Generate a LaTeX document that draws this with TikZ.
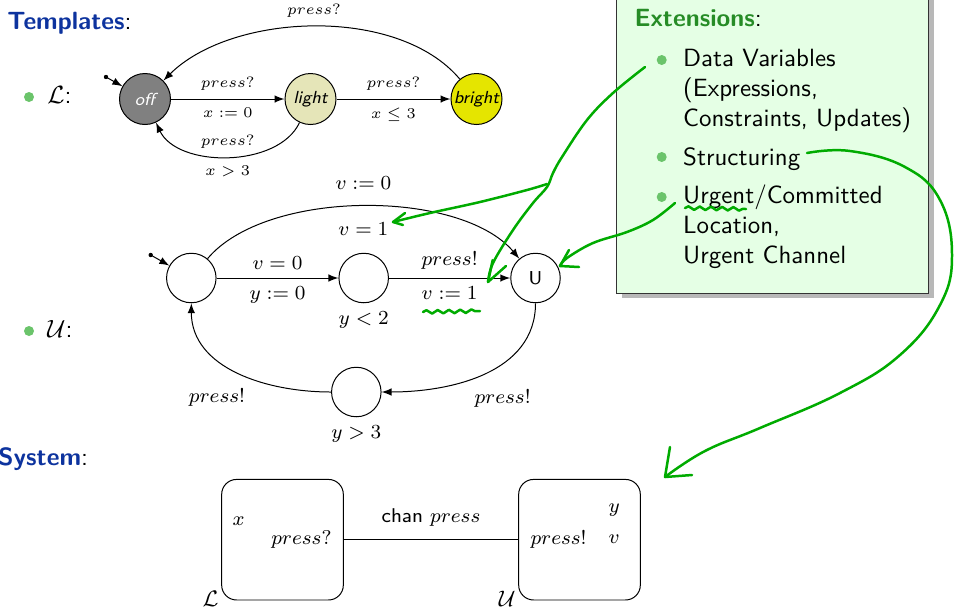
\documentclass[tikz,border=0pt]{standalone}
\usepackage{amsmath,amssymb}
\usepackage{tikz}
\definecolor{titleBlue}{rgb}{0.05,0.2,0.62}
\definecolor{extGreen}{rgb}{0.15,0.55,0.15}
\definecolor{itemGreen}{rgb}{0.42,0.77,0.42}
\definecolor{penGreen}{rgb}{0.0,0.67,0.0}
\definecolor{boxGreen}{rgb}{0.9,1.0,0.9}
\definecolor{offGray}{rgb}{0.5,0.5,0.5}
\definecolor{lightOlive}{rgb}{0.9,0.9,0.72}
\definecolor{brightYellow}{rgb}{0.9,0.9,0.0}
\usetikzlibrary{decorations.pathmorphing}
\tikzset{
  lloc/.style={circle, draw, minimum size=0.719cm, inner sep=0pt, font=\sffamily\itshape\fontsize{7}{8}\selectfont},
  uloc/.style={circle, draw, minimum size=0.698cm, inner sep=0pt, font=\sffamily\fontsize{7.5}{9}\selectfont},
  lbl/.style={font=\fontsize{6.5}{7.5}\selectfont},
  ulbl/.style={font=\fontsize{8}{9.5}\selectfont},
  slbl/.style={font=\fontsize{8}{9.5}\selectfont},
  sysbox/.style={draw, rounded corners=0.21cm, minimum width=1.715cm, minimum height=1.70cm},
  bul/.style={circle, fill=itemGreen, inner sep=0pt, minimum size=0.141cm},
  txt/.style={anchor=base west, inner sep=0pt, font=\sffamily},
  handpen/.style={penGreen, line width=1pt, line cap=round, line join=round},
  wavy/.style={handpen, decorate, decoration={snake, amplitude=0.7pt, segment length=4.5pt}},
}

\begin{document}
\begin{tikzpicture}[x=0.0141cm, y=0.0141cm]
        \useasboundingbox (0,0) rectangle (955,-614);

        \node[txt] (tmpl) at (7,-29.5) {\textcolor{titleBlue}{\bfseries Templates}:};
        \node[bul] (bl) at (29,-97) {};
        \node[txt] (lname) at (47,-103) {$\mathcal{L}$:};
        \node[bul] (bu) at (29,-331) {};
        \node[txt] (uname) at (47,-337) {$\mathcal{U}$:};
        \node[txt] (sys) at (-2,-465) {\textcolor{titleBlue}{\bfseries System}:};

        \node[lloc, fill=offGray, text=white] (off) at (145,-99) {off};
        \node[lloc, fill=lightOlive] (light) at (310.5,-99) {light};
        \node[lloc, fill=brightYellow] (bright) at (476.5,-99) {bright};
        \coordinate (linit) at (106,-77);
        \fill (linit) circle (2.2);
        \draw[-latex] (linit) -- (off);
        \draw[-latex] (off) -- node[lbl,above] {$press?$} node[lbl,below] {$x := 0$} (light);
        \draw[-latex] (light) -- node[lbl,above] {$press?$} node[lbl,below] {$x \leq 3$} (bright);
        \draw[-latex] (light) to[out=-115,in=-65,looseness=.9] node[lbl,above] {$press?$} node[lbl,below] {$x > 3$} (off);
        \draw[-latex] (bright) to[out=130,in=45,looseness=.83] node[lbl,above] {$press?$} (off);

        \node[uloc] (u0) at (191.3,-278) {};
        \node[uloc] (u1) at (363.7,-278) {};
        \node[uloc] (u2) at (535.5,-278) {U};
        \node[uloc] (u3) at (356.3,-392) {};
        \node[ulbl,below] (inv1) at (u1.south) {$y < 2$};
        \node[ulbl,below] (inv3) at (u3.south) {$y > 3$};
        \coordinate (uinit) at (150.7,-255);
        \fill (uinit) circle (2.2);
        \draw[-latex] (uinit) -- (u0);
        \draw[-latex] (u0) -- node[ulbl,above] {$v = 0$} node[ulbl,below] {$y := 0$} (u1);
        \draw[-latex] (u1) -- node[ulbl,above] {$press!$} node[ulbl,below] {$v := 1$} (u2);
        \draw[-latex] (u0) to[out=50,in=130,looseness=.75] node[ulbl,above=3pt] {$v := 0$} node[ulbl,below=3pt] {$v = 1$} (u2);
        \draw[-latex] (u2) to[out=-90,in=0] node[ulbl,pos=.6,below right] {$press!$} (u3);
        \draw[-latex] (u3) to[out=180,in=-90] node[ulbl,pos=.4,below left] {$press!$} (u0);

        \node[sysbox] (lsys) at (282.5,-539.7) {};
        \node[sysbox] (usys) at (579.5,-539.7) {};
        \draw (lsys) -- node[slbl,above=1.8pt] {\textsf{chan} $press$} (usys);
        \node[slbl, anchor=base west, inner sep=0pt] (lvar) at (232,-525) {$x$};
        \node[slbl, anchor=base east, inner sep=0pt] (lchan) at (332,-544) {$press?$};
        \node[slbl, anchor=base west, inner sep=0pt] (uchan) at (530,-544) {$press!$};
        \node[slbl, anchor=base west, inner sep=0pt] (uvary) at (608,-512) {$y$};
        \node[slbl, anchor=base west, inner sep=0pt] (uvarv) at (608,-543) {$v$};
        \node[font=\fontsize{9}{10}\selectfont, anchor=base east, inner sep=0pt] (lsysname) at (219,-606) {$\mathcal{L}$};
        \node[font=\fontsize{9}{10}\selectfont, anchor=base east, inner sep=0pt] (usysname) at (516,-606) {$\mathcal{U}$};

        \fill[black!28] (622,5) rectangle (934,-298);
        \draw[fill=boxGreen, draw=black!80] (616,5) rectangle (928,-293);
        \node[txt] (ext) at (634,-26) {\textcolor{extGreen}{\bfseries Extensions}:};
        \node[bul] (eb1) at (661.7,-60) {};
        \node[bul] (eb2) at (661.7,-157) {};
        \node[bul] (eb3) at (661.7,-197) {};
        \node[txt] (e1a) at (682.7,-66) {Data Variables};
        \node[txt] (e1b) at (682.7,-96) {(Expressions,};
        \node[txt] (e1c) at (682.7,-126) {Constraints, Updates)};
        \node[txt] (e2) at (682.7,-165) {Structuring};
        \node[txt] (e3a) at (682.7,-203) {Urgent/Committed};
        \node[txt] (e3b) at (682.7,-233) {Location,};
        \node[txt] (e3c) at (682.7,-263) {Urgent Channel};

        \draw[handpen] plot[smooth, tension=.6] coordinates {(645,-67) (613,-93) (587,-120) (562,-157) (553,-173) (547,-187) (533,-203) (513,-230) (493,-263) (488,-282)};
        \draw[handpen] (492.7,-260) -- (488,-282) -- (506,-266);
        \draw[handpen] plot[smooth, tension=.6] coordinates {(547,-184) (527,-190) (480,-202) (430,-213) (393,-222)};
        \draw[handpen] (405,-213) -- (393,-222) -- (403,-225);
        \draw[handpen] plot[smooth, tension=.6] coordinates {(675,-203) (653,-220) (627,-232) (593,-243) (567,-258) (560,-266)};
        \draw[handpen] (569,-250) -- (560,-266) -- (579,-267);
        \draw[handpen] plot[smooth, tension=.7] coordinates {(807,-153) (850,-151) (905,-167) (940,-200) (952,-255) (940,-305) (900,-355) (840,-393) (760,-428) (705,-451) (665,-477)};
        \draw[handpen] (670,-447) -- (665,-477) -- (692,-475);
        \draw[wavy] (423,-312) -- (480,-311);
        \draw[wavy] (685,-208) -- (746,-209);
    \end{tikzpicture}
\end{document}
